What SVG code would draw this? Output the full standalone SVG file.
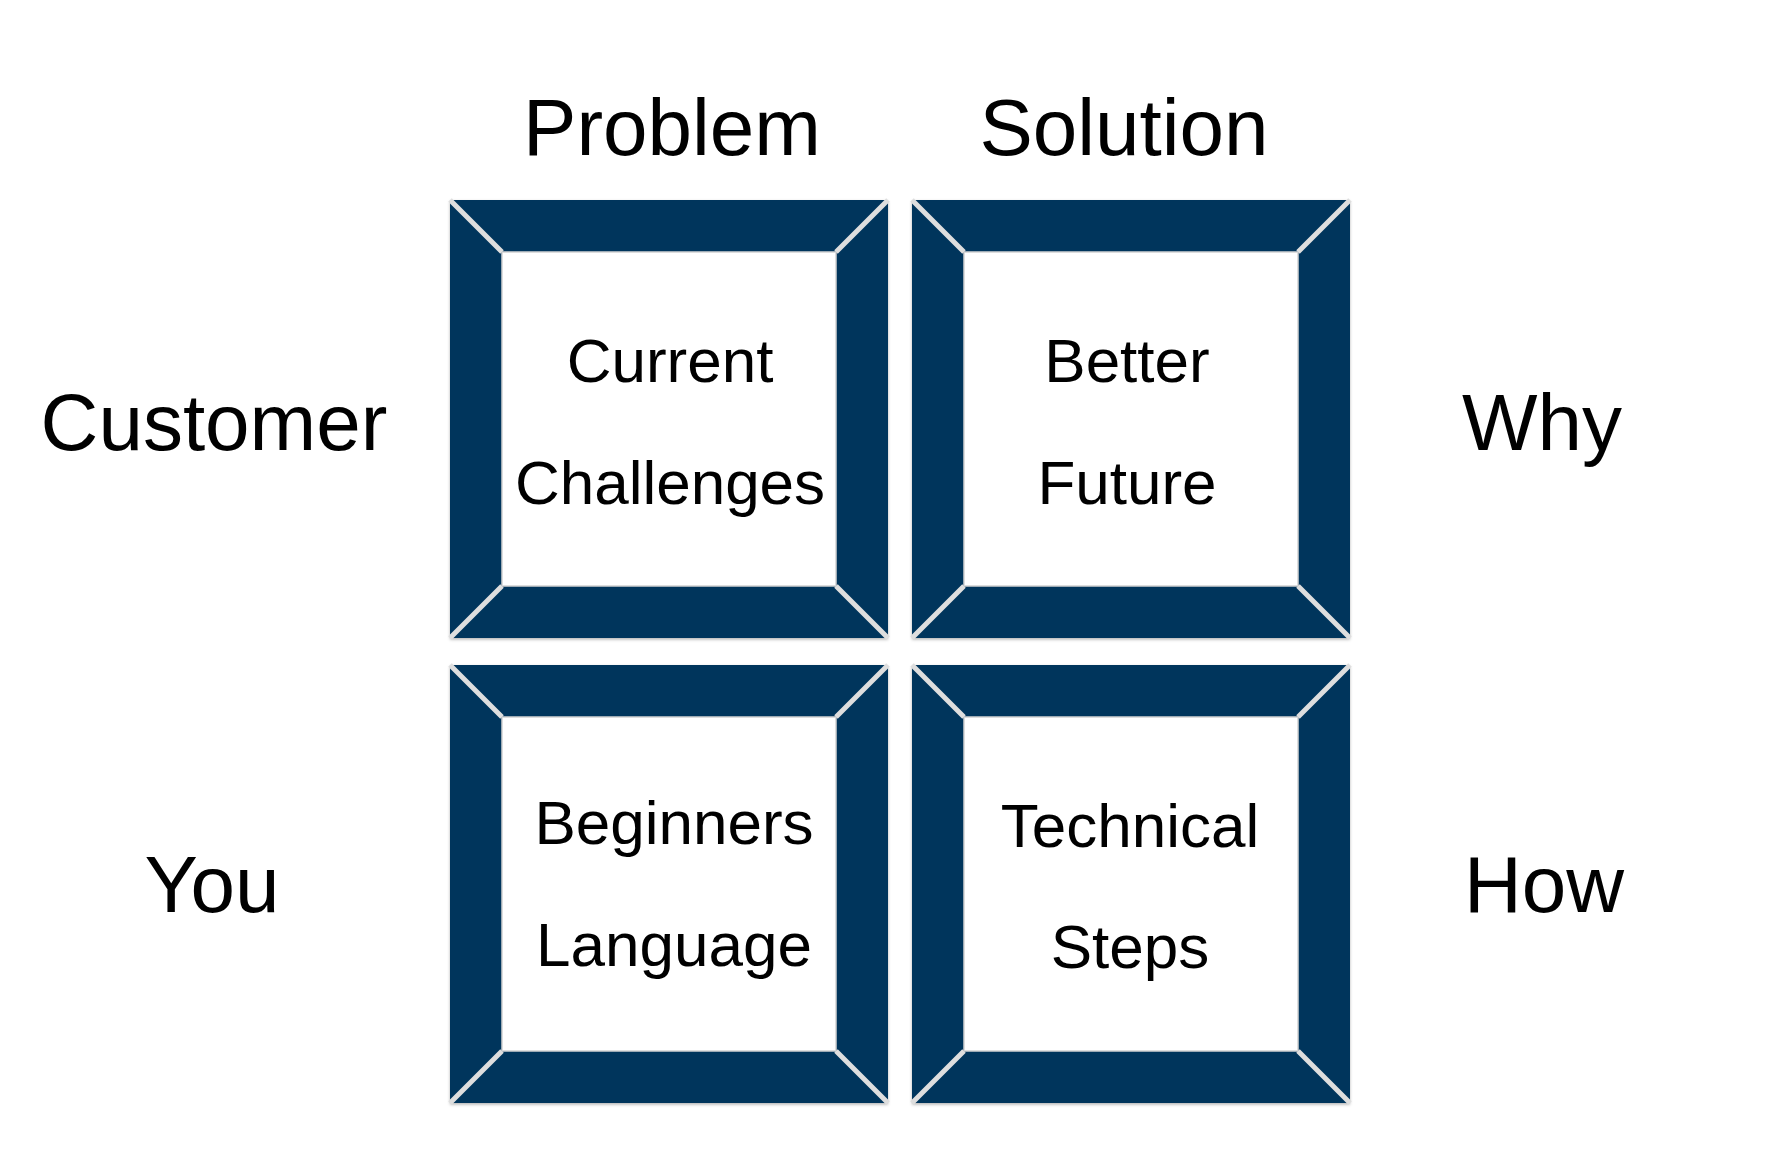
<svg xmlns="http://www.w3.org/2000/svg" xmlns:xlink="http://www.w3.org/1999/xlink" width="1766" height="1174" viewBox="0 0 1766 1174">
<style>
  .t { font-family: "Liberation Sans", Arial, Helvetica, sans-serif; fill: #000; text-anchor: middle; }
  .hdr { font-size: 80px; }
  .lbl { font-size: 62px; }
  .navy { fill: #03365c; }
  .inner { fill: #fff; stroke: #d2d2d2; stroke-width: 1.5; }
  .diag { stroke: #dedede; stroke-width: 5; stroke-linecap: butt; }
</style>
<defs>
  <filter id="sh" x="-5%" y="-5%" width="110%" height="110%">
    <feDropShadow dx="0" dy="1.5" stdDeviation="1.5" flood-color="#000" flood-opacity="0.3"/>
  </filter>
  <g id="frame">
    <rect class="navy" x="0" y="0" width="438" height="438" filter="url(#sh)"/>
    <rect class="inner" x="52" y="52" width="334" height="334"/>
    <path class="diag" d="M0,0 L52,52 M438,0 L386,52 M438,438 L386,386 M0,438 L52,386"/>
  </g>
</defs>
<rect width="1766" height="1174" fill="#fff"/>
<g id="connectors"/>
<g id="hdr-problem"><text class="t hdr" x="672" y="155">Problem</text></g>
<g id="hdr-solution"><text class="t hdr" x="1124" y="155">Solution</text></g>
<g id="hdr-customer"><text class="t hdr" x="214" y="450">Customer</text></g>
<g id="hdr-you"><text class="t hdr" x="212" y="912">You</text></g>
<g id="hdr-why"><text class="t hdr" x="1542" y="450">Why</text></g>
<g id="hdr-how"><text class="t hdr" x="1544" y="912">How</text></g>
<g id="node-current">
  <use xlink:href="#frame" x="450" y="200"/>
  <text class="t lbl" x="670" y="382">Current</text>
  <text class="t lbl" x="670" y="504">Challenges</text>
</g>
<g id="node-better">
  <use xlink:href="#frame" x="912" y="200"/>
  <text class="t lbl" x="1127" y="382">Better</text>
  <text class="t lbl" x="1127" y="504">Future</text>
</g>
<g id="node-beginners">
  <use xlink:href="#frame" x="450" y="665"/>
  <text class="t lbl" x="674" y="844">Beginners</text>
  <text class="t lbl" x="674" y="966">Language</text>
</g>
<g id="node-technical">
  <use xlink:href="#frame" x="912" y="665"/>
  <text class="t lbl" x="1130" y="847">Technical</text>
  <text class="t lbl" x="1130" y="968">Steps</text>
</g>
</svg>
